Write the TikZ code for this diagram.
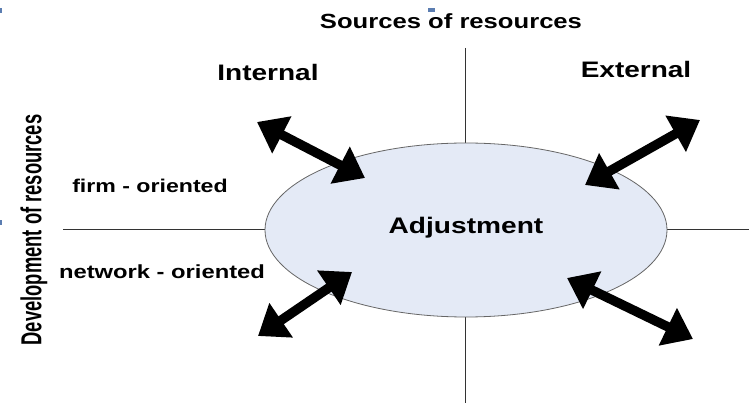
\documentclass[tikz,border=0pt]{standalone}
\usepackage{fontspec}
\setmainfont{Liberation Sans}[FakeStretch=1.25]
\newfontfamily\narrowfont{Liberation Sans}
\usetikzlibrary{arrows.meta,shapes.geometric}
\definecolor{ovalfill}{HTML}{E4EAF6}
\definecolor{dotblue}{HTML}{5B7DB1}

\tikzset{
  bigarrow/.style={line width=9.5pt,{Triangle[width=40pt,length=28pt]}-{Triangle[width=40pt,length=28pt]}},
  axis/.style={draw=black!80,line width=1pt},
  lbl/.style={inner sep=0pt,font=\bfseries}
}

\begin{document}
\begin{tikzpicture}[x=1pt,y=-1pt]
      \useasboundingbox (0,0) rectangle (749,403);
      % axes
      \coordinate (top) at (465,48);
      \coordinate (bottom) at (465,403);
      \coordinate (left) at (63,230);
      \coordinate (right) at (749,230);
      \draw[axis] (top) -- (bottom);
      \draw[axis] (left) -- (right);
      \node[ellipse,draw=black!60,line width=0.8pt,fill=ovalfill,minimum width=402pt,minimum height=174pt] (adj) at (466,230) {};
      \node[lbl,font=\bfseries\fontsize{22.5}{26}\selectfont] (adjtext) at (466,228) {Adjustment};
      % arrows
      \coordinate (tlout) at (257,122);
      \coordinate (tlin) at (365,178);
      \coordinate (trout) at (700,120);
      \coordinate (trin) at (585,185);
      \coordinate (blout) at (258,336);
      \coordinate (blin) at (352,272);
      \coordinate (brout) at (693,339);
      \coordinate (brin) at (567,278);
      \draw[bigarrow] (tlout) -- (tlin);
      \draw[bigarrow] (trout) -- (trin);
      \draw[bigarrow] (blout) -- (blin);
      \draw[bigarrow] (brout) -- (brin);
      % labels
      \node[lbl,font=\bfseries\fontsize{20.5}{24}\selectfont] (sources) at (451,21) {Sources of resources};
      \node[lbl,font=\bfseries\fontsize{22.4}{26}\selectfont] (internal) at (268,72) {Internal};
      \node[lbl,font=\bfseries\fontsize{22.4}{26}\selectfont] (external) at (636,69) {External};
      \node[lbl,font=\bfseries\fontsize{18.5}{22}\selectfont] (firm) at (150,186) {firm - oriented};
      \node[lbl,font=\bfseries\fontsize{19}{22}\selectfont] (network) at (162,272) {network - oriented};
      \node[lbl,rotate=90] (development) at (34,230) {\scalebox{0.75}[1.18]{\narrowfont\bfseries\fontsize{24.5}{28}\selectfont Development of resources}};
      % small marks
      \fill[dotblue] (0,8) rectangle (2,13);
      \fill[dotblue] (428,8) rectangle (435,12);
      \fill[dotblue] (0,220) rectangle (2,225);
    \end{tikzpicture}
\end{document}
